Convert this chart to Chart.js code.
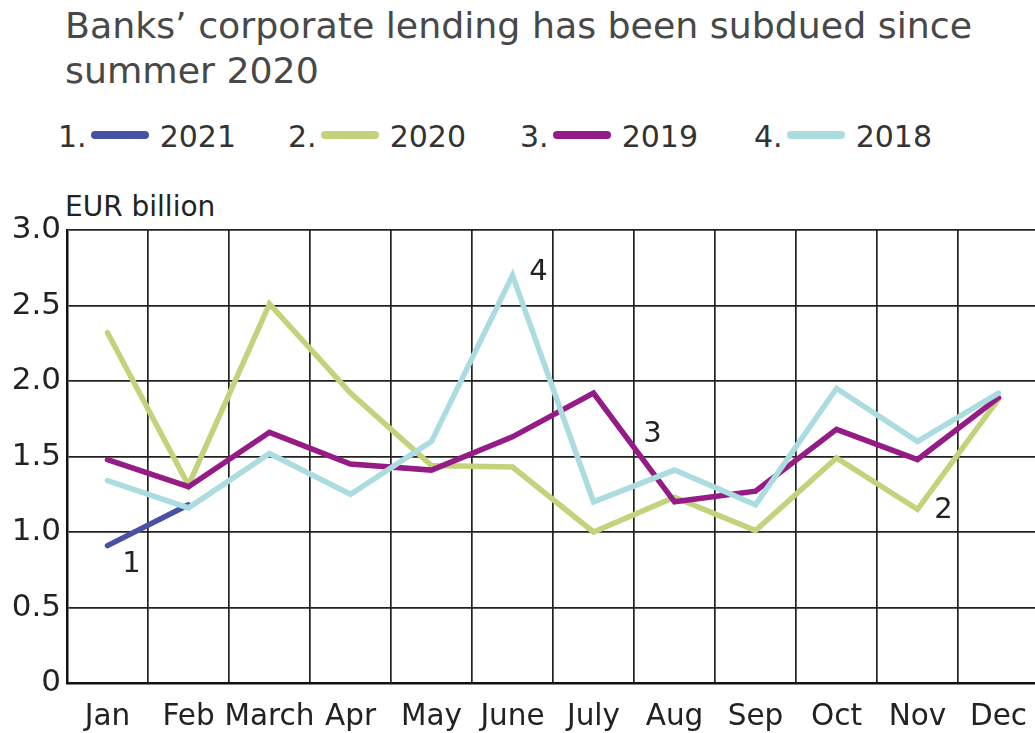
<!DOCTYPE html>
<html>
<head>
<meta charset="utf-8">
<script src="https://cdn.jsdelivr.net/npm/chart.js@4"></script>
<style>
  body { margin: 0; width: 1035px; height: 733px; overflow: hidden; background: #fff; font-family: "DejaVu Sans", sans-serif; }
  .title { position: absolute; left: 65px; top: 3px; font-size: 36.3px; line-height: 45px; color: #484848; white-space: nowrap; }
  .legend { position: absolute; left: 0; top: 117px; font-size: 30px; color: #333; white-space: nowrap; }
  .legend .item { position: absolute; top: 0; white-space: nowrap; }
  .legend .item span { display: inline-block; vertical-align: middle; }
  .legend .sw { width: 58px; height: 8px; border-radius: 4px; margin: 0 11px 0 4px; position: relative; top: -2px; }
  .unit { position: absolute; left: 65px; top: 190px; font-size: 28px; color: #222; }
  #wrap { position: absolute; left: 0; top: 180px; width: 1045px; height: 553px; }
</style>
</head>
<body>
<div class="title">Banks’ corporate lending has been subdued since<br>summer 2020</div>
<div class="legend" id="legend"></div>
<div class="unit">EUR billion</div>
<div id="wrap"><canvas id="myChart"></canvas></div>
<script>
const months = ["Jan", "Feb", "March", "Apr", "May", "June", "July", "Aug", "Sep", "Oct", "Nov", "Dec"];
const years = ["2021", "2020", "2019", "2018"];
const yTicks = [0, 0.5, 1.0, 1.5, 2.0, 2.5, 3.0];

const v2021 = [0.91, 1.18];
const v2020 = [2.32, 1.31, 2.51, 1.92, 1.44, 1.43, 1.00, 1.23, 1.01, 1.49, 1.15, 1.88];
const v2019 = [1.48, 1.30, 1.66, 1.45, 1.41, 1.63, 1.92, 1.20, 1.27, 1.68, 1.48, 1.89];
const v2018 = [1.34, 1.16, 1.52, 1.25, 1.60, 2.70, 1.20, 1.41, 1.18, 1.95, 1.60, 1.92];

const colors = ["#4652a5", "#c3d37b", "#951c87", "#aadce0"];

// legend in html, one item per year
const legendLeft = [58, 288, 520, 754];
let legendHtml = '';
years.forEach(function(y, i) {
  legendHtml += '<div class="item" style="left:' + legendLeft[i] + 'px"><span>' + (i + 1) + '.</span><span class="sw" style="background:' + colors[i] + '"></span><span>' + y + '</span></div>';
});
document.getElementById('legend').innerHTML = legendHtml;

// number labels next to the lines: [dataset, month, dx, dy, text]
const numberLabels = [
  [0, 0, 24, 19, "1"],
  [1, 10, 26, 1, "2"],
  [2, 6, 59, 41, "3"],
  [3, 5, 26, -3, "4"]
];

const lineNumbers = {
  id: 'lineNumbers',
  afterDatasetsDraw(chart) {
    const ctx = chart.ctx;
    ctx.save();
    ctx.font = '29px "DejaVu Sans"';
    ctx.fillStyle = '#222';
    ctx.textAlign = 'center';
    ctx.textBaseline = 'middle';
    numberLabels.forEach(function(n) {
      const ds = chart.data.datasets[n[0]];
      const x = chart.scales.x.getPixelForValue(n[1]);
      const y = chart.scales.y.getPixelForValue(ds.data[n[1]]);
      ctx.fillText(n[4], x + n[2], y + n[3]);
    });
    ctx.restore();
  }
};

const series = [v2021, v2020, v2019, v2018];
const drawOrder = [1, 3, 2, 0];

new Chart("myChart", {
  type: "line",
  data: {
    labels: months,
    datasets: series.map(function(vals, i) {
      return {
        label: years[i],
        data: vals,
        borderColor: colors[i],
        borderWidth: 5.5,
        pointRadius: 0,
        tension: 0,
        fill: false,
        borderCapStyle: 'round',
        order: drawOrder[i]
      };
    })
  },
  options: {
    responsive: true,
    maintainAspectRatio: false,
    animation: false,
    layout: { padding: { top: 50, right: 6, left: 0, bottom: 0 } },
    plugins: {
      legend: { display: false },
      tooltip: { enabled: false }
    },
    scales: {
      x: {
        offset: true,
        grid: { offset: true, color: '#222', lineWidth: 1.7, drawTicks: false },
        border: { color: '#111', width: 2.5 },
        ticks: { font: { family: 'DejaVu Sans', size: 29.5 }, color: '#222', padding: 17, maxRotation: 0, autoSkip: false },
        afterFit: function(s) { s.height = 50; }
      },
      y: {
        min: 0,
        max: 3,
        afterBuildTicks: function(s) { s.ticks = yTicks.map(function(v) { return { value: v }; }); },
        grid: { color: '#222', lineWidth: 1.7, drawTicks: false },
        border: { color: '#111', width: 2.5 },
        ticks: {
          font: { family: 'DejaVu Sans', size: 31 },
          color: '#222',
          padding: 6,
          callback: function(v) { return v === 0 ? '0' : v.toFixed(1); }
        },
        afterFit: function(s) { s.width = 67; }
      }
    }
  },
  plugins: [lineNumbers]
});
</script>
</body>
</html>
